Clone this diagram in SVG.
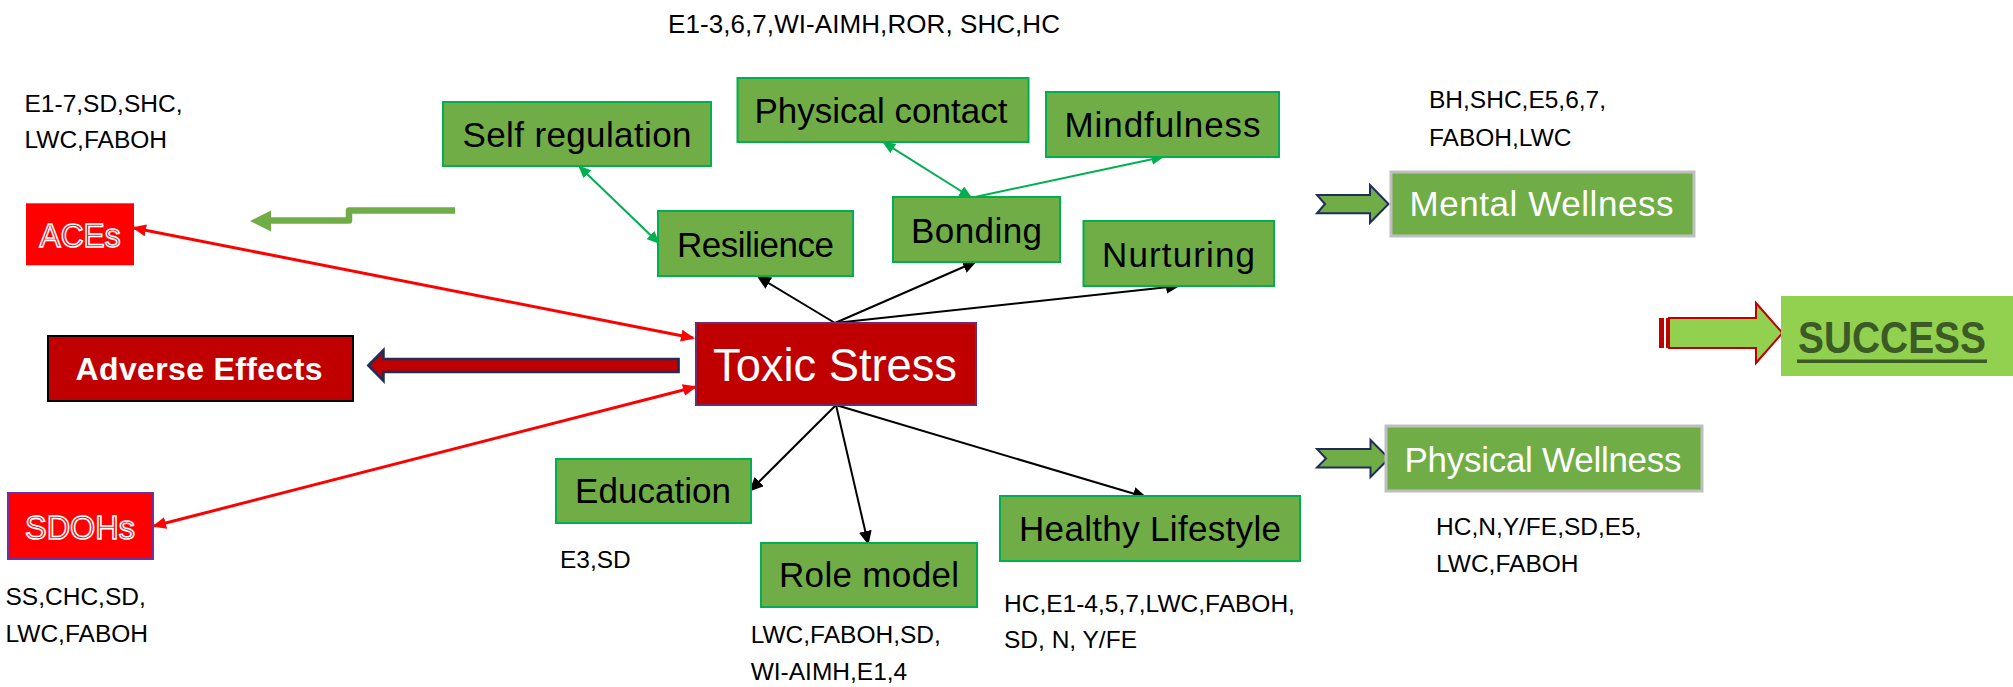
<svg xmlns="http://www.w3.org/2000/svg" width="2013" height="687" viewBox="0 0 2013 687">
  <style>
    text { font-family: "Liberation Sans", Arial, sans-serif; }
    .green { fill: #70AD47; stroke: #00B050; stroke-width: 2; }
    .gtxt { font-size: 35px; fill: #000; text-anchor: middle; }
    .well { fill: #70AD47; stroke: #BFBFBF; stroke-width: 3; }
    .wtxt { font-size: 35px; fill: #fff; text-anchor: middle; }
    .note { font-size: 24.5px; fill: #000; }
    .outline { font-size: 34px; fill: #FF0000; stroke: #fff; stroke-width: 1.6; text-anchor: middle; }
    .blk { stroke: #000; stroke-width: 2; fill: none; marker-end: url(#ahBlack); }
    .red { stroke: #FF0000; stroke-width: 3; fill: none; marker-start: url(#ahRed); marker-end: url(#ahRed); }
    .grn { stroke: #00B050; stroke-width: 2; fill: none; }
  </style>
  <defs>
    <marker id="ahBlack" markerUnits="userSpaceOnUse" markerWidth="14" markerHeight="13" refX="12" refY="6.5" orient="auto">
      <path d="M0,0 L14,6.5 L0,13 Z" fill="#000"/>
    </marker>
    <marker id="ahRed" markerUnits="userSpaceOnUse" markerWidth="14" markerHeight="12" refX="12" refY="6" orient="auto-start-reverse">
      <path d="M0,0 L14,6 L0,12 Z" fill="#FF0000"/>
    </marker>
    <marker id="ahGreen" markerUnits="userSpaceOnUse" markerWidth="13" markerHeight="11" refX="11" refY="5.5" orient="auto-start-reverse">
      <path d="M0,0 L13,5.5 L0,11 Z" fill="#00B050"/>
    </marker>
  </defs>

  <rect width="2013" height="687" fill="#fff"/>

  <!-- connectors -->
  <g id="connectors">
    <line class="blk" x1="835" y1="323" x2="758.5" y2="277"/>
    <line class="blk" x1="835" y1="323" x2="975" y2="262"/>
    <line class="blk" x1="835" y1="323" x2="1178" y2="286"/>
    <line class="blk" x1="836" y1="405" x2="750.7" y2="490"/>
    <line class="blk" x1="836" y1="405" x2="868" y2="543"/>
    <line class="blk" x1="836" y1="405" x2="1145" y2="497"/>

    <line class="red" x1="134" y1="228" x2="693" y2="338"/>
    <line class="red" x1="154" y1="526" x2="695" y2="387"/>

    <line class="grn" x1="579.5" y1="166.7" x2="658.5" y2="242.7" marker-start="url(#ahGreen)" marker-end="url(#ahGreen)"/>
    <line class="grn" x1="884" y1="142.7" x2="970.5" y2="197" marker-start="url(#ahGreen)" marker-end="url(#ahGreen)"/>
    <line class="grn" x1="975" y1="197" x2="1162.5" y2="157" marker-end="url(#ahGreen)"/>

    <!-- stepped green arrow -->
    <path d="M455,210.5 H349 V220.5 H270" fill="none" stroke="#70AD47" stroke-width="6.5" stroke-linejoin="round"/>
    <polygon points="250,221 271,210.5 271,231.5" fill="#70AD47"/>

    <!-- block arrow toward Adverse Effects -->
    <polygon points="368.3,365.5 383.5,350 383.5,359 678.6,359 678.6,372 383.5,372 383.5,381" fill="#C00000" stroke="#1F2D5A" stroke-width="2.5" stroke-linejoin="miter"/>

    <!-- notched arrows toward the wellness boxes -->
    <polygon points="1317,195 1370,195 1370,185 1388.5,204 1370,222.7 1370,213.3 1317,213.3 1325,204" fill="#70AD47" stroke="#1F2D5A" stroke-width="2"/>
    <polygon points="1317,449 1370.5,449 1370.5,440 1389,458.5 1370.5,477 1370.5,467.5 1317,467.5 1326,458.5" fill="#70AD47" stroke="#1F2D5A" stroke-width="2"/>

    <!-- striped arrow toward SUCCESS -->
    <rect x="1659" y="318" width="5" height="30" fill="#C00000"/>
    <rect x="1666" y="318" width="2" height="30" fill="#C00000"/>
    <polygon points="1669,318 1756,318 1756,303 1782.5,333 1756,363 1756,348 1669,348" fill="#92D050" stroke="#C00000" stroke-width="2"/>
  </g>

  <!-- nodes -->
  <g id="self-regulation">
    <rect class="green" x="443" y="102" width="268" height="64"/>
    <text class="gtxt" x="577" y="147" textLength="229">Self regulation</text>
  </g>
  <g id="physical-contact">
    <rect class="green" x="737.5" y="78" width="291" height="64"/>
    <text class="gtxt" x="881" y="123" textLength="253">Physical contact</text>
  </g>
  <g id="mindfulness">
    <rect class="green" x="1046" y="92" width="233" height="65"/>
    <text class="gtxt" x="1162.5" y="137" textLength="196">Mindfulness</text>
  </g>
  <g id="resilience">
    <rect class="green" x="658" y="211" width="195" height="65"/>
    <text class="gtxt" x="755.5" y="257" textLength="157">Resilience</text>
  </g>
  <g id="bonding">
    <rect class="green" x="893" y="197" width="167" height="65"/>
    <text class="gtxt" x="976.5" y="243" textLength="131">Bonding</text>
  </g>
  <g id="nurturing">
    <rect class="green" x="1083.5" y="221" width="190.5" height="65"/>
    <text class="gtxt" x="1178.5" y="267" textLength="153">Nurturing</text>
  </g>
  <g id="toxic-stress">
    <rect x="696" y="323" width="280" height="82" fill="#C00000" stroke="#6B2D6B" stroke-width="2"/>
    <text x="835" y="381" font-size="46" fill="#fff" text-anchor="middle" textLength="244" lengthAdjust="spacingAndGlyphs">Toxic Stress</text>
  </g>
  <g id="education">
    <rect class="green" x="556" y="459" width="195" height="64"/>
    <text class="gtxt" x="653" y="503" textLength="156">Education</text>
  </g>
  <g id="role-model">
    <rect class="green" x="761" y="543" width="216" height="64"/>
    <text class="gtxt" x="869" y="587" textLength="180">Role model</text>
  </g>
  <g id="healthy-lifestyle">
    <rect class="green" x="1000" y="496" width="300" height="65"/>
    <text class="gtxt" x="1150" y="541" textLength="262">Healthy Lifestyle</text>
  </g>
  <g id="aces">
    <rect x="26" y="203.3" width="108" height="62" fill="#FF0000"/>
    <text class="outline" x="80" y="247" textLength="81" lengthAdjust="spacingAndGlyphs">ACEs</text>
  </g>
  <g id="adverse-effects">
    <rect x="48" y="336" width="305" height="65" fill="#C00000" stroke="#000" stroke-width="2"/>
    <text x="199" y="380" font-size="32" font-weight="bold" fill="#fff" text-anchor="middle" textLength="247">Adverse Effects</text>
  </g>
  <g id="sdohs">
    <rect x="8" y="493" width="145" height="66" fill="#FF0000" stroke="#7030A0" stroke-width="2"/>
    <text class="outline" x="80" y="539" textLength="110" lengthAdjust="spacingAndGlyphs">SDOHs</text>
  </g>
  <g id="mental-wellness">
    <rect class="well" x="1391" y="172" width="303" height="64"/>
    <text class="wtxt" x="1541.5" y="216" textLength="264">Mental Wellness</text>
  </g>
  <g id="physical-wellness">
    <rect class="well" x="1386" y="426" width="316" height="65"/>
    <text class="wtxt" x="1543" y="472" textLength="277">Physical Wellness</text>
  </g>
  <g id="success">
    <rect x="1781" y="296" width="232" height="80" fill="#92D050"/>
    <text x="1892" y="353" font-size="45" font-weight="bold" fill="#3B5A25" text-anchor="middle" textLength="188" lengthAdjust="spacingAndGlyphs">SUCCESS</text>
    <rect x="1797" y="359.5" width="190" height="3.5" fill="#3B5A25"/>
  </g>

  <!-- annotation labels -->
  <g id="labels">
    <text x="668" y="33" font-size="26" textLength="392">E1-3,6,7,WI-AIMH,ROR, SHC,HC</text>
    <text class="note" x="24.5" y="112">E1-7,SD,SHC,</text>
    <text class="note" x="24.5" y="148">LWC,FABOH</text>
    <text class="note" x="1429" y="108">BH,SHC,E5,6,7,</text>
    <text class="note" x="1429" y="146">FABOH,LWC</text>
    <text class="note" x="560" y="568">E3,SD</text>
    <text class="note" x="5.5" y="605">SS,CHC,SD,</text>
    <text class="note" x="5.5" y="642">LWC,FABOH</text>
    <text class="note" x="750.7" y="643">LWC,FABOH,SD,</text>
    <text class="note" x="750.7" y="680">WI-AIMH,E1,4</text>
    <text class="note" x="1004" y="612">HC,E1-4,5,7,LWC,FABOH,</text>
    <text class="note" x="1004" y="648">SD, N, Y/FE</text>
    <text class="note" x="1436" y="535">HC,N,Y/FE,SD,E5,</text>
    <text class="note" x="1436" y="572">LWC,FABOH</text>
  </g>
</svg>
